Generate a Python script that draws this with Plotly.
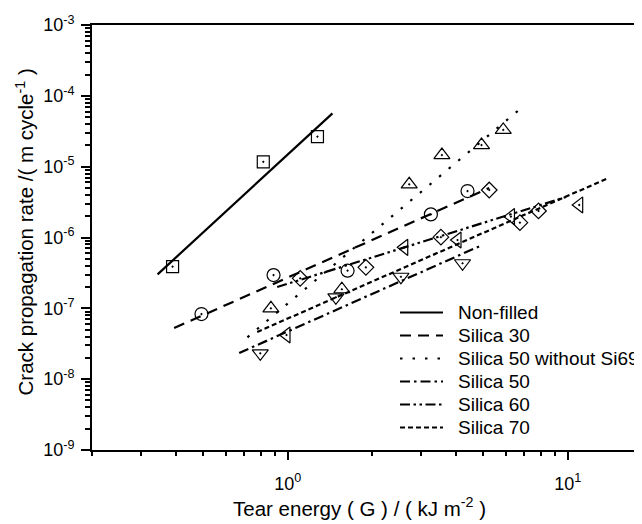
import numpy as np
import plotly.graph_objects as go

# ---------------- data ----------------
# Non-filled
nf_x = [0.388, 0.818, 1.277]
nf_y = [3.87e-7, 1.17e-5, 2.65e-5]
nf_fit_x = [0.343, 1.445]
nf_fit_y = [3.02e-7, 5.66e-5]

# Silica 30
s30_x = [0.492, 0.890, 1.636, 3.246, 4.387]
s30_y = [8.31e-8, 2.95e-7, 3.40e-7, 2.12e-6, 4.53e-6]
s30_fit_x = [0.393, 5.244]
s30_fit_y = [5.27e-8, 5.00e-6]

# Silica 50 without Si69
s50n_x = [0.871, 1.561, 2.716, 3.554, 4.922, 5.885]
s50n_y = [1.00e-7, 1.86e-7, 5.64e-6, 1.46e-5, 2.02e-5, 3.30e-5]
s50n_fit_x = [0.718, 6.806]
s50n_fit_y = [3.90e-8, 6.67e-5]

# Silica 50
s50_x = [0.798, 1.486, 2.537, 4.211]
s50_y = [2.32e-8, 1.43e-7, 2.79e-7, 4.33e-7]
s50_fit_x = [0.671, 4.950]
s50_fit_y = [2.34e-8, 7.83e-7]

# Silica 60
s60_x = [1.108, 1.902, 3.525, 5.244, 6.750, 7.864]
s60_y = [2.65e-7, 3.79e-7, 1.01e-6, 4.68e-6, 1.62e-6, 2.37e-6]
s60_fit_x = [0.917, 9.88]
s60_fit_y = [2.00e-7, 3.73e-6]

# Silica 70
s70_x = [0.990, 2.607, 4.040, 6.270, 10.99]
s70_y = [4.20e-8, 7.26e-7, 9.22e-7, 1.97e-6, 2.88e-6]
s70_fit_x = [0.778, 13.72]
s70_fit_y = [4.64e-8, 6.70e-6]

series_names = ["Non-filled", "Silica 30", "Silica 50 without Si69",
                "Silica 50", "Silica 60", "Silica 70"]

# tick labels
y_tick_vals = [1e-9, 1e-8, 1e-7, 1e-6, 1e-5, 1e-4, 1e-3]
y_tick_text = ["10<sup>-9</sup>", "10<sup>-8</sup>", "10<sup>-7</sup>", "10<sup>-6</sup>",
               "10<sup>-5</sup>", "10<sup>-4</sup>", "10<sup>-3</sup>"]
x_tick_vals = [1, 10]
x_tick_text = ["10<sup>0</sup>", "10<sup>1</sup>"]

# ---------------- styling ----------------
FONT = "Arial, Liberation Sans, sans-serif"
series = [
    (nf_x, nf_y, nf_fit_x, nf_fit_y, "square-open-dot", 12, "solid"),
    (s30_x, s30_y, s30_fit_x, s30_fit_y, "circle-open-dot", 13, "11px,7px"),
    (s50n_x, s50n_y, s50n_fit_x, s50n_fit_y, "triangle-up-open-dot", 14, "2.5px,10px"),
    (s50_x, s50_y, s50_fit_x, s50_fit_y, "triangle-down-open-dot", 14, "10px,4px,2.5px,4px"),
    (s60_x, s60_y, s60_fit_x, s60_fit_y, "diamond-open-dot", 12, "10px,3.5px,2.5px,3.5px,2.5px,3.5px"),
    (s70_x, s70_y, s70_fit_x, s70_fit_y, "triangle-left-open-dot", 14, "5px,3px"),
]

fig = go.Figure()
for name, (mx, my, fx, fy, sym, size, dash) in zip(series_names, series):
    fig.add_trace(go.Scatter(x=fx, y=fy, mode="lines", name=name, showlegend=False,
                             line=dict(color="black", width=2.2, dash=dash)))
for name, (mx, my, fx, fy, sym, size, dash) in zip(series_names, series):
    fig.add_trace(go.Scatter(x=mx, y=my, mode="markers", name=name, showlegend=False,
                             marker=dict(symbol=sym, size=size, color="black",
                                         line=dict(color="black", width=1.2))))

x_minor = [m * 10 ** d for d in (-1, 0, 1) for m in range(2, 10)]
y_minor = [m * 10.0 ** d for d in range(-9, -3) for m in range(2, 10)]

# page is drawn with an 8px body margin, so the figure is 8px smaller each way
OFF = 8
W, H = 642 - OFF, 524 - OFF
L, T = 92 - OFF, 25 - OFF
BOT = 450 - OFF
B = H - BOT
plot_w = W - L
plot_h = BOT - T
px_per_decade = 280.0
x0 = np.log10(0.2)


def px(xw):
    return (xw - OFF - L) / plot_w


def py(yw):
    return (BOT - (yw - OFF)) / plot_h


# hand-placed legend (line samples + labels)
shapes = []
annotations = []
for i, (name, s) in enumerate(zip(series_names, series)):
    yy = py(312.5 + 23 * i)
    shapes.append(dict(type="line", xref="paper", yref="paper",
                       x0=px(400), x1=px(443), y0=yy, y1=yy,
                       line=dict(color="black", width=2.2, dash=s[6])))
    annotations.append(dict(text=name, xref="paper", yref="paper", x=px(456), y=yy,
                            xanchor="left", yanchor="middle", showarrow=False,
                            font=dict(family=FONT, size=19, color="black")))

annotations += [
    dict(text="Tear energy ( G ) / ( kJ m<sup>-2</sup> )", xref="paper", yref="paper",
         x=px(359.5), y=py(507), xanchor="center", yanchor="middle",
         showarrow=False, font=dict(family=FONT, size=20.5, color="black")),
    dict(text="Crack propagation rate /( m cycle<sup>-1</sup> )", xref="paper", yref="paper",
         x=px(24), y=py(232.5), xanchor="center", yanchor="middle",
         textangle=-90, showarrow=False, font=dict(family=FONT, size=20.5, color="black")),
]

fig.update_layout(
    width=W, height=H,
    margin=dict(l=L, r=0, t=T, b=B),
    paper_bgcolor="white", plot_bgcolor="white",
    font=dict(family=FONT, color="black", size=18),
    showlegend=False,
    xaxis=dict(type="log", range=[x0, x0 + plot_w / px_per_decade],
               showline=True, linewidth=2, linecolor="black", mirror=True,
               ticks="outside", ticklen=8, tickwidth=2, tickcolor="black",
               tickmode="array", tickvals=x_tick_vals, ticktext=x_tick_text,
               tickfont=dict(size=18), ticklabelstandoff=8,
               showgrid=False, zeroline=False,
               minor=dict(ticks="outside", ticklen=4, tickwidth=1.5, tickcolor="black",
                          tickmode="array", tickvals=x_minor, showgrid=False)),
    yaxis=dict(type="log", range=[-9, -3],
               showline=True, linewidth=2, linecolor="black", mirror=False,
               ticks="outside", ticklen=9, tickwidth=2, tickcolor="black",
               tickmode="array", tickvals=y_tick_vals, ticktext=y_tick_text,
               tickfont=dict(size=18), ticklabelstandoff=3,
               showgrid=False, zeroline=False,
               minor=dict(ticks="outside", ticklen=5, tickwidth=1.5, tickcolor="black",
                          tickmode="array", tickvals=y_minor, showgrid=False)),
    shapes=shapes,
    annotations=annotations,
)

fig.write_html("out.html")
